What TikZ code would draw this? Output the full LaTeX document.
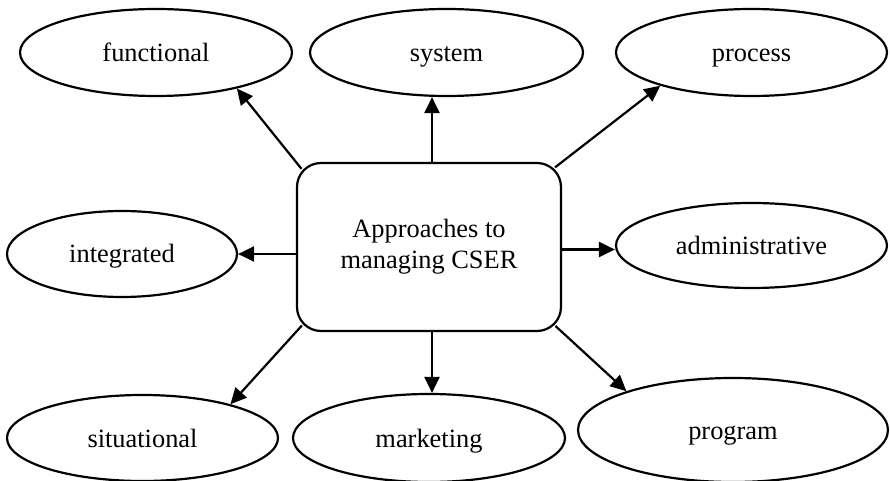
\documentclass[tikz,border=0pt]{standalone}
\usepackage{fontspec}
\setmainfont{Liberation Serif}
\usetikzlibrary{arrows.meta, shapes}

\begin{document}
\begin{tikzpicture}[x=0.5pt, y=-0.5pt, line width=1.1pt,
    font=\fontsize{13.2}{15.5}\selectfont,
    >={Triangle[length=8pt,width=7.5pt]}]
\useasboundingbox (0,0) rectangle (890,481);
%\tikzstyle{approach}=[ellipse,draw,minimum width=136pt]
\begin{scope}[every node/.style={ellipse,draw,inner sep=0pt,text height=9pt,text depth=0pt,minimum height=43.5pt}]
    \node[minimum width=136pt] (functional) at (156,52.5) {functional};
    \node[minimum width=136.5pt] (system) at (446.5,52.5) {system};
    \node[minimum width=135.5pt] (process) at (751.5,52.5) {process};
    \node[minimum width=115pt, minimum height=43pt] (integrated) at (122,254) {integrated};
    \node[minimum width=135.5pt, minimum height=42.5pt] (administrative) at (751.5,245.5) {administrative};
    \node[minimum width=135.5pt, minimum height=43pt] (situational) at (142.5,438) {situational};
    \node[minimum width=136pt, minimum height=44pt] (marketing) at (429,438) {marketing};
    \node[minimum width=155pt, minimum height=52pt] (program) at (733,430) {program};
\end{scope}
\node[draw, rounded corners=12pt, minimum width=132pt, minimum height=84pt, align=center] (core) at (429,247) {Approaches to\\managing CSER};

    \path [->] (core.north west) edge[shorten <=-4.5pt] (functional.-24);
    \path [->] ([xshift=1.5pt]core.north) edge ([xshift=1.5pt]core.north |- system.south);
    \path [->] (core.north east) edge[shorten <=-4.5pt] (process.200);
    \path [->] (core.west |- integrated.east) edge (integrated.east);
    \path [->] ([yshift=-2pt]core.east |- administrative.west) edge ([yshift=-2pt]administrative.west);
    \path [->] (core.south west) edge[shorten <=-4.5pt] (situational.21);
    \path [->] ([xshift=1.5pt]core.south) edge ([xshift=1.5pt]core.south |- marketing.north);
    \path [->] (core.south east) edge[shorten <=-4.5pt] (program.160);
\end{tikzpicture}
\end{document}
